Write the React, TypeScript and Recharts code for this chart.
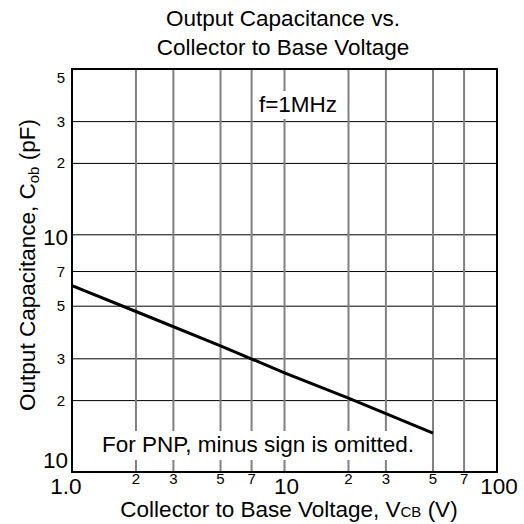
import { LineChart, Line, XAxis, YAxis, CartesianGrid, ReferenceArea } from "recharts";

const voltage = [1, 2, 5, 10, 20, 50];
const capacitance = [6.1, 4.75, 3.4, 2.62, 2.05, 1.46];

const xTicks = [1, 2, 3, 5, 7, 10, 20, 30, 50, 70, 100];
const xTickLabels = ["1.0", "2", "3", "5", "7", "10", "2", "3", "5", "7", "100"];
const yTicks = [1, 2, 3, 5, 7, 10, 20, 30, 50];
const yTickLabels = ["10", "2", "3", "5", "7", "10", "2", "3", "5"];

const xDomain = [1, 100];
const yDomain = [1, 50];

const data = voltage.map((v, i) => ({ v, c: capacitance[i] }));

const FONT = '"Liberation Sans", Arial, sans-serif';
const BIG = 22.5;
const SMALL = 15;

// big labels are nudged off the grid line like the original
const xShift: Record<number, number> = { 1: -6, 10: 2, 100: 2 };
const yShift: Record<number, number> = { 1: -12, 10: 2, 50: 9 };

function XTick({ x, y, payload }: any) {
  const i = xTicks.indexOf(payload.value);
  const label = xTickLabels[i];
  const big = label.length > 1;
  return (
    <text
      x={x + (xShift[payload.value] || 0)}
      y={big ? y + 14 : y + 4}
      textAnchor="middle"
      fontFamily={FONT}
      fontSize={big ? BIG : SMALL}
      fill="#000"
    >
      {label}
    </text>
  );
}

function YTick({ x, y, payload }: any) {
  const i = yTicks.indexOf(payload.value);
  const label = yTickLabels[i];
  const big = label.length > 1;
  return (
    <text
      x={big ? x + 4 : x + 1}
      y={y + (yShift[payload.value] || 0)}
      dy={big ? 8 : 5}
      textAnchor="end"
      fontFamily={FONT}
      fontSize={big ? BIG : SMALL}
      fill="#000"
    >
      {label}
    </text>
  );
}

export default function App() {
  return (
    <div style={{ position: "absolute", left: 0, top: 0, width: 524, height: 524, background: "#fff" }}>
      <LineChart
        width={524}
        height={524}
        data={data}
        margin={{ top: 69, right: 27, bottom: 12, left: 12 }}
      >
        <CartesianGrid vertical={false} stroke="#000" strokeWidth={1} />
        <CartesianGrid horizontal={false} stroke="#808080" strokeWidth={2} />
        <XAxis
          dataKey="v"
          type="number"
          scale="log"
          domain={xDomain}
          ticks={xTicks}
          interval={0}
          allowDataOverflow
          axisLine={false}
          tickLine={false}
          height={40}
          tick={<XTick />}
        />
        <YAxis
          dataKey="c"
          type="number"
          scale="log"
          domain={yDomain}
          ticks={yTicks}
          interval={0}
          allowDataOverflow
          axisLine={false}
          tickLine={false}
          width={60}
          tick={<YTick />}
        />
        <ReferenceArea
          x1={xDomain[0]}
          x2={xDomain[1]}
          y1={yDomain[0]}
          y2={yDomain[1]}
          fill="none"
          stroke="#000"
          strokeWidth={2}
        />
        <Line
          dataKey="c"
          type="linear"
          stroke="#000"
          strokeWidth={3}
          dot={false}
          isAnimationActive={false}
        />
      </LineChart>
      <svg
        width={524}
        height={524}
        style={{ position: "absolute", left: 0, top: 0, pointerEvents: "none" }}
        fontFamily={FONT}
      >
        <text x={283} y={26} textAnchor="middle" fontSize={BIG}>Output Capacitance vs.</text>
        <text x={283} y={55} textAnchor="middle" fontSize={BIG}>Collector to Base Voltage</text>
        <rect x={254} y={91} width={87} height={28} fill="#fff" />
        <text x={298} y={112} textAnchor="middle" fontSize={BIG}>f=1MHz</text>
        <rect x={97} y={431} width={323} height={29} fill="#fff" />
        <text x={258} y={452} textAnchor="middle" fontSize={BIG}>For PNP, minus sign is omitted.</text>
        <text x={289} y={517} textAnchor="middle" fontSize={BIG}>
          Collector to Base Voltage, V<tspan fontSize={15}>CB</tspan> (V)
        </text>
        <text
          transform="translate(35 265) rotate(-90)"
          textAnchor="middle"
          fontSize={BIG}
        >
          Output Capacitance, C<tspan fontSize={15} dy={4}>ob</tspan>
          <tspan dy={-4}> (pF)</tspan>
        </text>
      </svg>
    </div>
  );
}
